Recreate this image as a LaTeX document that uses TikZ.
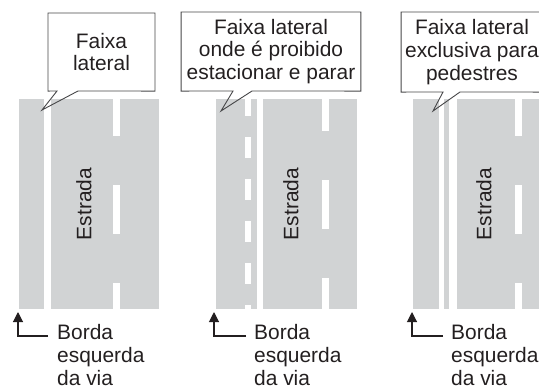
\documentclass[tikz,border=0pt]{standalone}
\usepackage{fontspec}
\setmainfont{Liberation Sans}
\usetikzlibrary{arrows.meta}
\definecolor{roadgray}{RGB}{209,211,212}
\definecolor{boxline}{RGB}{70,70,72}
\definecolor{ink}{RGB}{35,31,32}
\tikzset{
  road/.style={fill=roadgray},
  paint/.style={fill=white},
  balloonbox/.style={align=center,inner sep=0pt,text=ink},
  balloon/.style={draw=boxline,line width=0.9bp,line join=miter},
  edgelabel/.style={align=left,anchor=north west,inner sep=0pt,text=ink},
  edgearrow/.style={-{Triangle[length=10bp,width=10bp]},line width=1.1bp,draw=ink}
}

\begin{document}
\begin{tikzpicture}[x=1bp,y=-1bp,font=\fontsize{21}{23}\selectfont]
        \useasboundingbox (0,0) rectangle (539,389);
        % left road
        \fill[road] (19,99) rectangle (159,309);
        \fill[paint] (44,99) rectangle (51,309);
        \begin{scope}
            \clip (19,99) rectangle (159,309);
            \foreach \y in {87,185,283}
                \fill[paint] (113,\y) rectangle (120,\y+49);
        \end{scope}
        % middle road
        \fill[road] (216,99) rectangle (357,309);
        \fill[paint] (257,99) rectangle (263,309);
        \begin{scope}
            \clip (216,99) rectangle (357,309);
            \foreach \y in {95,137,...,305}
                \fill[paint] (245,\y) rectangle (251,\y+21);
            \foreach \y in {82,180,278}
                \fill[paint] (322,\y) rectangle (329,\y+49);
        \end{scope}
        % right road
        \fill[road] (413,99) rectangle (545,309);
        \fill[paint] (439,99) rectangle (444,309);
        \fill[paint] (449,99) rectangle (457,309);
        \begin{scope}
            \clip (413,99) rectangle (545,309);
            \foreach \y in {87,185,283}
                \fill[paint] (515,\y) rectangle (522,\y+49);
        \end{scope}
        \node[rotate=90,text=ink] (r1) at (84,204) {Estrada};
        \node[rotate=90,text=ink] (r2) at (291,204) {Estrada};
        \node[rotate=90,text=ink] (r3) at (484,204) {Estrada};
        % callouts
        \coordinate (t1) at (42,110);
        \coordinate (t2) at (221,111);
        \coordinate (t3) at (433,111);
        \node[balloonbox,minimum width=107,minimum height=78] (c1) at (101.5,52) {Faixa\\lateral};
        \node[balloonbox,minimum width=180,minimum height=79] (c2) at (271,51.5) {Faixa lateral\\onde é proibido\\estacionar e parar};
        \node[balloonbox,minimum width=142,minimum height=80] (c3) at (472,52) {Faixa lateral\\exclusiva para\\pedestres};
        \draw[balloon] (c1.south west) |- (c1.north east) -- (c1.south east) -- (78,91) -- (t1) -- (57,91) -- cycle;
        \draw[balloon] (c2.south west) |- (c2.north east) -- (c2.south east) -- (252,91) -- (t2) -- (233,91) -- cycle;
        \draw[balloon] (c3.south west) |- (c3.north east) -- (c3.south east) -- (460,92) -- (t3) -- (443,92) -- cycle;
        % left edge labels
        \node[edgelabel] (b1) at (57,324) {Borda\\esquerda\\da via};
        \node[edgelabel] (b2) at (254,324) {Borda\\esquerda\\da via};
        \node[edgelabel] (b3) at (451,324) {Borda\\esquerda\\da via};
        \coordinate (a1) at (18,312);
        \coordinate (a2) at (214,312);
        \coordinate (a3) at (412,312);
        \draw[edgearrow] ([xshift=-9]b1.west |- 0,336) -| (a1);
        \draw[edgearrow] ([xshift=-8]b2.west |- 0,336) -| (a2);
        \draw[edgearrow] ([xshift=-8]b3.west |- 0,336) -| (a3);
\end{tikzpicture}
\end{document}
